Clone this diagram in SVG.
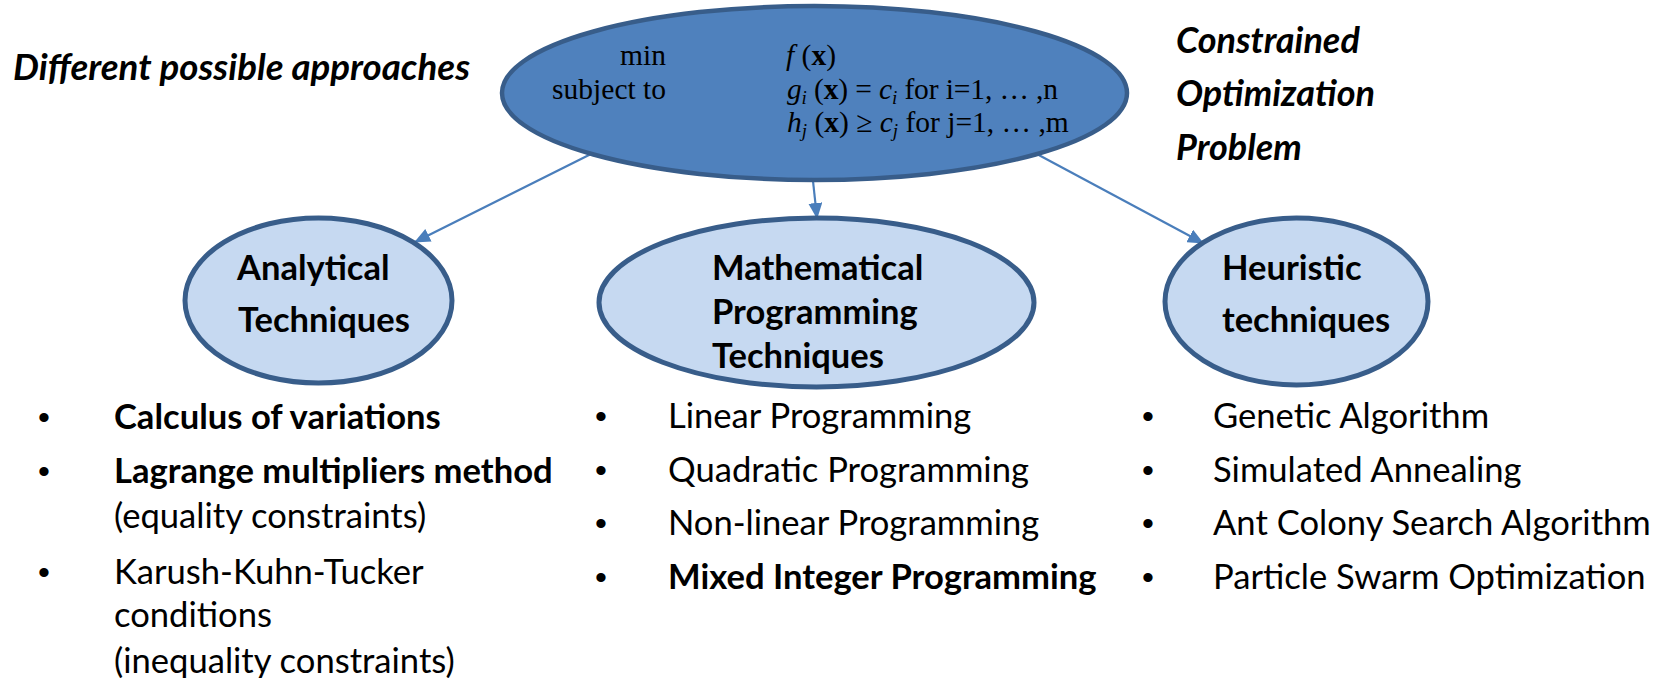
<svg xmlns="http://www.w3.org/2000/svg" width="1663" height="678" viewBox="0 0 1663 678">
<defs>
<style>
.top{fill:#4F81BD;stroke:#385D8A;stroke-width:4.5}
.sub{fill:#C6D9F1;stroke:#385D8A;stroke-width:5}
.conn{stroke:#4A7EBB;stroke-width:2.2;fill:none;marker-end:url(#ah)}
.math{font-family:"Liberation Serif","Times New Roman",serif;font-size:29.5px;fill:#000}
.head{font-family:Lato,"Open Sans",sans-serif;font-weight:bold;font-size:34.5px;fill:#000}
.note{font-family:Lato,"Open Sans",sans-serif;font-weight:bold;font-style:italic;font-size:36px;fill:#000}
.item{font-family:Lato,"Open Sans",sans-serif;font-size:34.6px;fill:#000}
.b{font-weight:bold}
.bul{font-family:"Liberation Sans",Arial,sans-serif;font-size:34px;fill:#000}
</style>
<marker id="ah" markerUnits="userSpaceOnUse" markerWidth="16" markerHeight="14" refX="15" refY="7" orient="auto">
<path d="M0,0 L16,7 L0,14 z" fill="#4A7EBB"/>
</marker>
</defs>
<rect width="1663" height="678" fill="#fff"/>

<g id="connectors">
<line class="conn" x1="593" y1="153" x2="415" y2="242"/>
<line class="conn" x1="813" y1="181" x2="817" y2="218"/>
<line class="conn" x1="1035" y1="153" x2="1203" y2="243"/>
</g>

<g id="problem">
<ellipse class="top" cx="814.5" cy="93" rx="312.5" ry="87"/>
<text class="math" x="666" y="65" text-anchor="end">min</text>
<text class="math" x="666" y="99" text-anchor="end">subject to</text>
<text class="math" x="786" y="65"><tspan font-style="italic">f</tspan> (<tspan font-weight="bold">x</tspan>)</text>
<text class="math" x="787" y="99" textLength="271"><tspan font-style="italic">g</tspan><tspan font-style="italic" font-size="19" dy="5">i</tspan><tspan dy="-5"> (</tspan><tspan font-weight="bold">x</tspan>) = <tspan font-style="italic">c</tspan><tspan font-style="italic" font-size="19" dy="5">i</tspan><tspan dy="-5"> for i=1, … ,n</tspan></text>
<text class="math" x="787" y="132"><tspan font-style="italic">h</tspan><tspan font-style="italic" font-size="19" dy="5">j</tspan><tspan dy="-5"> (</tspan><tspan font-weight="bold">x</tspan>) ≥ <tspan font-style="italic">c</tspan><tspan font-style="italic" font-size="19" dy="5">j</tspan><tspan dy="-5"> for j=1, … ,m</tspan></text>
</g>

<g id="label-approaches">
<text class="note" x="13" y="80" textLength="457" lengthAdjust="spacingAndGlyphs">Different possible approaches</text>
</g>
<g id="label-cop">
<text class="note" x="1176" y="53">Constrained</text>
<text class="note" x="1176" y="106">Optimization</text>
<text class="note" x="1176" y="160">Problem</text>
</g>

<g id="analytical">
<ellipse class="sub" cx="318.5" cy="300.5" rx="133.5" ry="82.5"/>
<text class="head" x="237" y="280">Analytical</text>
<text class="head" x="238" y="332">Techniques</text>
</g>

<g id="mathematical">
<ellipse class="sub" cx="816.5" cy="302.5" rx="217.5" ry="84.5"/>
<text class="head" x="712" y="280">Mathematical</text>
<text class="head" x="712" y="324">Programming</text>
<text class="head" x="712" y="368">Techniques</text>
</g>

<g id="heuristic">
<ellipse class="sub" cx="1296.5" cy="301.5" rx="131.5" ry="83.5"/>
<text class="head" x="1222" y="280">Heuristic</text>
<text class="head" x="1222" y="332">techniques</text>
</g>

<g id="list-analytical">
<text class="bul" x="38" y="429">•</text>
<text class="item b" x="114" y="429">Calculus of variations</text>
<text class="bul" x="38" y="483">•</text>
<text class="item b" x="114" y="483">Lagrange multipliers method</text>
<text class="item" x="114" y="528">(equality constraints)</text>
<text class="bul" x="38" y="584">•</text>
<text class="item" x="114" y="584">Karush-Kuhn-Tucker</text>
<text class="item" x="114" y="627">conditions</text>
<text class="item" x="114" y="673">(inequality constraints)</text>
</g>

<g id="list-math">
<text class="bul" x="595" y="428">•</text>
<text class="item" x="668" y="428">Linear Programming</text>
<text class="bul" x="595" y="482">•</text>
<text class="item" x="668" y="482">Quadratic Programming</text>
<text class="bul" x="595" y="535">•</text>
<text class="item" x="668" y="535">Non-linear Programming</text>
<text class="bul" x="595" y="589">•</text>
<text class="item b" x="668" y="589">Mixed Integer Programming</text>
</g>

<g id="list-heuristic">
<text class="bul" x="1142" y="428">•</text>
<text class="item" x="1213" y="428">Genetic Algorithm</text>
<text class="bul" x="1142" y="482">•</text>
<text class="item" x="1213" y="482">Simulated Annealing</text>
<text class="bul" x="1142" y="535">•</text>
<text class="item" x="1213" y="535">Ant Colony Search Algorithm</text>
<text class="bul" x="1142" y="589">•</text>
<text class="item" x="1213" y="589">Particle Swarm Optimization</text>
</g>
</svg>
